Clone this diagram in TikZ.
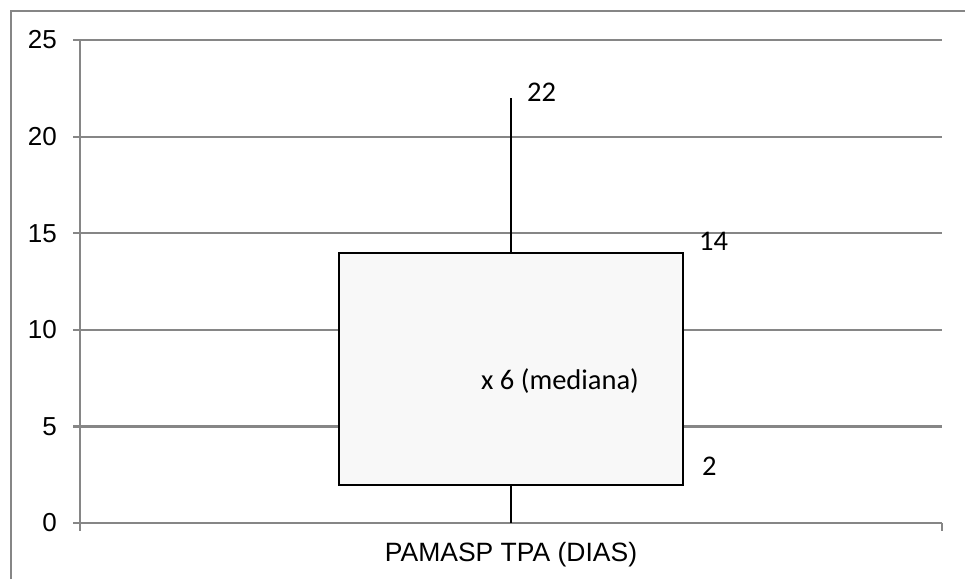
\documentclass[tikz,border=0pt]{standalone}
\usepackage{fontspec}
\setmainfont{Liberation Sans}
\newfontfamily\calib{Carlito}
\definecolor{gridgray}{HTML}{868686}
\definecolor{boxfill}{HTML}{F8F8F8}
\begin{document}
\begin{tikzpicture}[x=1pt,y=-1pt,
  gridline/.style={draw=gridgray,line width=2.2pt},
  frameline/.style={draw=gridgray,line width=2.2pt},
  ticklabel/.style={anchor=east,inner sep=0pt,font=\fontsize{26}{26}\selectfont},
  datalabel/.style={anchor=west,inner sep=0pt,font=\calib\fontsize{28.5}{28.5}\selectfont},
  plotline/.style={draw=black,line width=2.2pt}]
\useasboundingbox (0,0) rectangle (965,579);
% outer frame (top and left visible)
\draw[frameline] (11,579) -- (11,11) -- (965,11);
% gridlines and left ticks
\foreach \v in {5,10,15,20,25}{
  \draw[gridline] (73,{523-19.32*\v}) -- (942,{523-19.32*\v});
}
% axes
\draw[gridline] (80,40) -- (80,531);
\draw[gridline] (73,523) -- (942,523);
\draw[gridline] (942,523) -- (942,531);
% tick labels
\foreach \v in {0,5,10,15,20,25}{
  \node[ticklabel] (t\v) at (57,{523-19.32*\v}) {\v};
}
% box plot
\coordinate (wtop) at (511,98);
\coordinate (wbot) at (511,523);
\draw[plotline] (wtop) -- (wbot);
\node[draw=black,line width=2.2pt,fill=boxfill,minimum width=344pt,minimum height=232pt,inner sep=0pt] (box) at (511,369) {};
% data labels
\node[datalabel] (l22) at (527,92) {22};
\node[datalabel] (l14) at (699,241) {14};
\node[datalabel] (l2) at (702,466) {2};
\node[datalabel] (lmed) at (481,381) {x 6 (mediana)};
% category label
\node[inner sep=0pt,font=\fontsize{26.5}{26.5}\selectfont] (cat) at (511,555) {PAMASP TPA (DIAS)};
\end{tikzpicture}
\end{document}
